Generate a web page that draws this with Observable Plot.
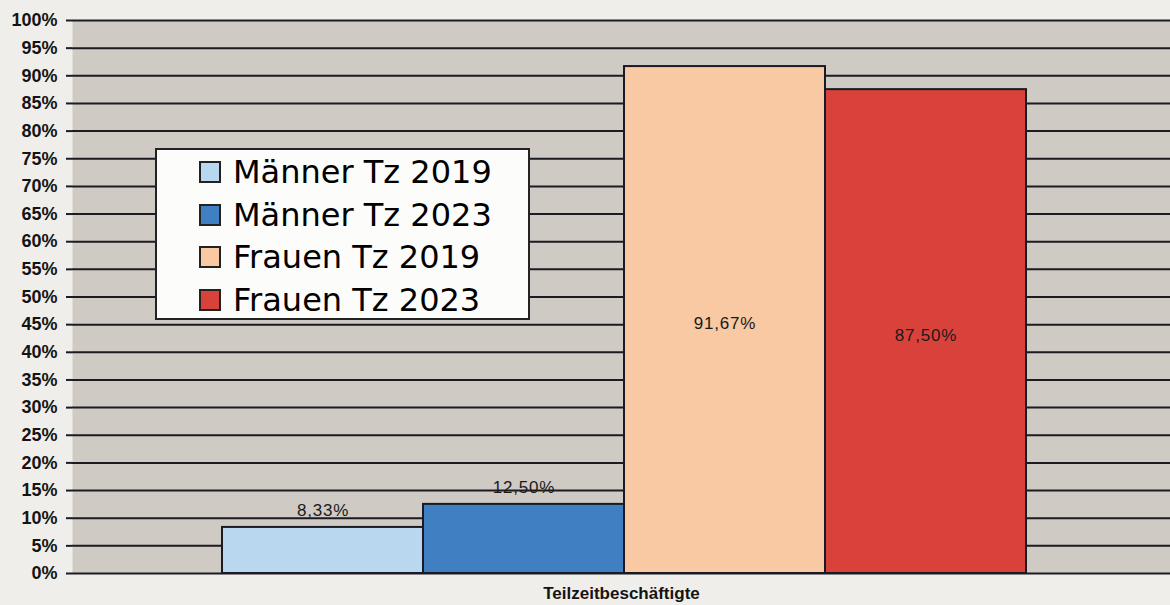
<!DOCTYPE html>
<html>
<head>
<meta charset="utf-8">
<script src="https://cdn.jsdelivr.net/npm/d3@7"></script>
<script src="https://cdn.jsdelivr.net/npm/@observablehq/plot@0.6"></script>
<style>
  html, body { margin: 0; padding: 0; background: #efeeea; overflow: hidden; }
  #wrap { position: relative; width: 1170px; height: 605px; }
  #legend {
    position: absolute; left: 155px; top: 148px; width: 371px; height: 168px;
    background: #fcfcfb; border: 2px solid #222;
    font-family: "Comic Sans MS", "DejaVu Sans", sans-serif; font-size: 32px; color: #000;
    box-sizing: content-box;
  }
  .item { position: absolute; left: 42px; display: flex; align-items: center; height: 42px; }
  .sw { width: 18px; height: 18px; border: 2px solid #222; margin-right: 12px; }
  .barlabel text { letter-spacing: 0.8px; }
</style>
</head>
<body>
<div id="wrap"></div>
<script>
const category = "Teilzeitbeschäftigte";
const series = ["Männer Tz 2019", "Männer Tz 2023", "Frauen Tz 2019", "Frauen Tz 2023"];
const values = [0.0833, 0.125, 0.9167, 0.875];
const labels = ["8,33%", "12,50%", "91,67%", "87,50%"];
const colors = ["#b9d7ee", "#3f7fc2", "#f8c9a3", "#d9423b"];
const yTicks = d3.range(0, 1.0001, 0.05);

const data = series.map((s, i) => ({category, series: s, value: values[i], label: labels[i]}));

const chart = Plot.plot({
  width: 1170,
  height: 605,
  marginTop: 20,
  marginBottom: 32,
  marginLeft: 72,
  marginRight: 0,
  style: {background: "transparent", fontFamily: "Liberation Sans, Arial, sans-serif"},
  fx: {domain: [category], padding: 0, label: null, axis: null},
  x: {domain: series, paddingInner: 0, paddingOuter: 0.721, align: 0.509, axis: null},
  y: {domain: [0, 1], ticks: yTicks, tickFormat: d => Math.round(d * 100) + "%", label: null},
  color: {domain: series, range: colors},
  marks: [
    Plot.frame({fill: "#cfcbc4", stroke: null}),
    Plot.ruleY(yTicks, {stroke: "#1c1a22", strokeWidth: 2}),
    Plot.axisY({ticks: yTicks, tickFormat: d => Math.round(d * 100) + "%", tickSize: 6, tickPadding: 9,
      fontSize: 18, fontWeight: "bold", stroke: "#1c1a22", strokeWidth: 2, fill: "#141414", label: null}),
    Plot.ruleX([0], {frameAnchor: "left", y1: 0, y2: 1, stroke: "#1c2a55", strokeWidth: 2}),
    Plot.barY(data, {fx: "category", x: "series", y: "value", fill: "series", stroke: "#1a1a24", strokeWidth: 2}),
    Plot.text(data.filter(d => d.value < 0.5), {fx: "category", x: "series", y: "value", text: "label",
      dy: -17, fontSize: 17, fill: "#1a1a1a", className: "barlabel"}),
    Plot.text(data.filter(d => d.value >= 0.5), {fx: "category", x: "series", y: d => d.value / 2, text: "label",
      dy: 4, fontSize: 17, fill: "#1a1a1a", className: "barlabel"}),
    Plot.axisFx({domain: [category], anchor: "bottom", tickSize: 0, tickPadding: 13, fontSize: 17,
      fontWeight: "bold", fill: "#141414", label: null})
  ]
});

const wrap = document.getElementById("wrap");
wrap.appendChild(chart);

const legend = document.createElement("div");
legend.id = "legend";
series.forEach((s, i) => {
  const it = document.createElement("div");
  it.className = "item";
  it.style.top = (1 + i * 42.5) + "px";
  const sw = document.createElement("span");
  sw.className = "sw";
  sw.style.background = colors[i];
  const t = document.createElement("span");
  t.textContent = s;
  it.appendChild(sw);
  it.appendChild(t);
  legend.appendChild(it);
});
wrap.appendChild(legend);
</script>
</body>
</html>
